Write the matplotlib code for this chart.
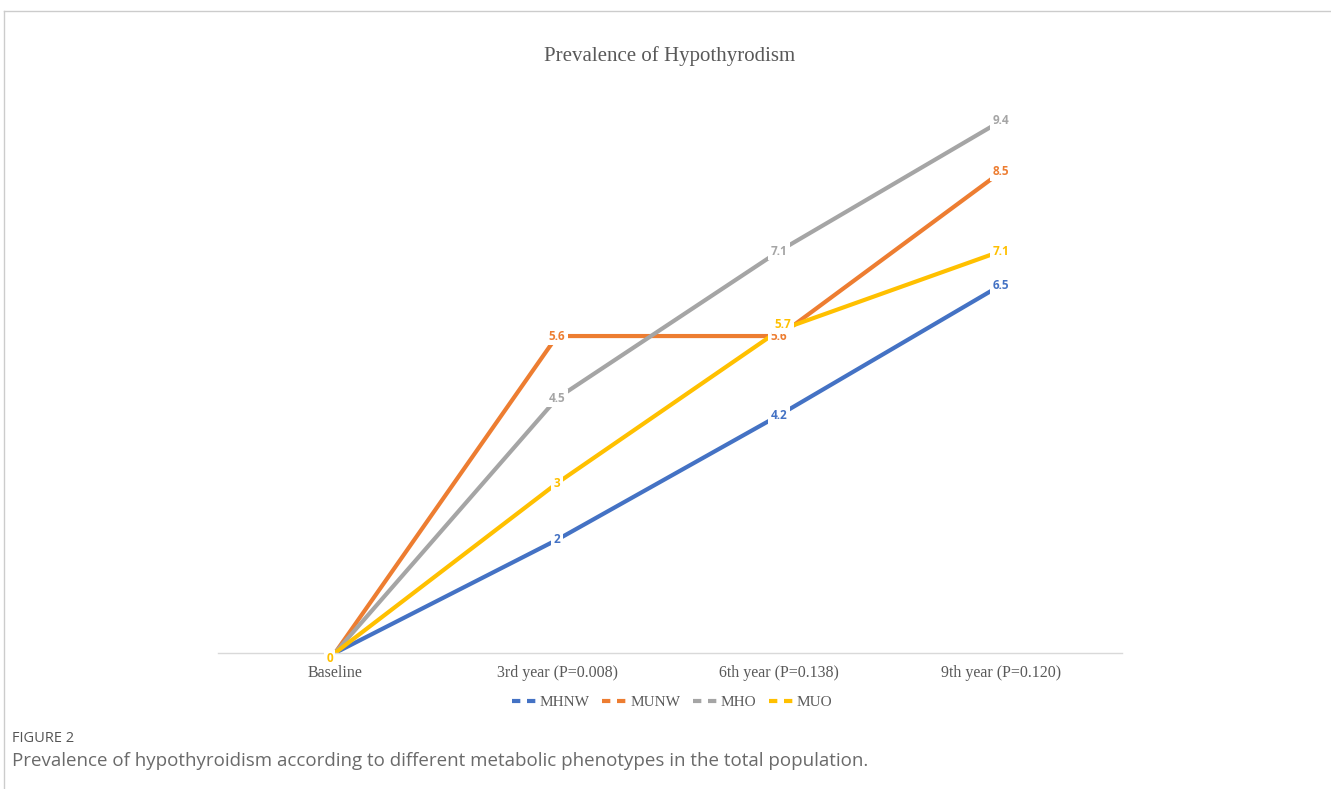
import matplotlib.pyplot as plt
from matplotlib.lines import Line2D

categories = ["Baseline", "3rd year (P=0.008)", "6th year (P=0.138)", "9th year (P=0.120)"]
mhnw = [0, 2, 4.2, 6.5]
munw = [0, 5.6, 5.6, 8.5]
mho = [0, 4.5, 7.1, 9.4]
muo = [0, 3, 5.7, 7.1]

series = [("MHNW", mhnw, "#4472C4"),
          ("MUNW", munw, "#ED7D31"),
          ("MHO", mho, "#A5A5A5"),
          ("MUO", muo, "#FFC000")]

fig = plt.figure(figsize=(13.31, 7.89), dpi=100)
ax = fig.add_axes([0.1638, 0.1724, 0.6792, 0.7173])

x = list(range(len(categories)))
for name, vals, col in series:
    ax.plot(x, vals, color=col, lw=3, solid_capstyle="butt", label=name, zorder=2)

# data labels, drawn after all lines so the white boxes cut through them
for i, (name, vals, col) in enumerate(series):
    for xi, v in zip(x, vals):
        dx, dy = 0, 0
        if xi == 0:
            dx, dy = -4, -4
        if name == "MUO" and xi == 2:
            dx, dy = 3, 4
        ax.annotate(f"{v:g}", (xi, v), xytext=(dx, dy), textcoords="offset points",
                    ha="center", va="center", fontsize=8.5, fontweight="bold",
                    family="Open Sans", color=col, zorder=3 + i,
                    bbox=dict(boxstyle="square,pad=0.2", fc="white", ec="none"))

ax.set_xlim(-0.527, 3.545)
ax.set_ylim(0, 10)
for s in ["top", "right", "left"]:
    ax.spines[s].set_visible(False)
ax.spines["bottom"].set_color("#D9D9D9")
ax.spines["bottom"].set_linewidth(1)
ax.set_yticks([])
ax.set_xticks(x)
ax.set_xticklabels(categories, family="Liberation Serif", fontsize=11.5, color="#595959")
ax.tick_params(axis="x", length=0, pad=9)

fig.text(0.503, 1 - 56 / 789, "Prevalence of Hypothyrodism", ha="center", va="center",
         family="Liberation Serif", fontsize=15, color="#595959")

handles = [Line2D([], [], color=c, lw=3, ls=(0, (2.0, 1.6))) for _, _, c in series]
fig.legend(handles, [n for n, _, _ in series], loc="center", bbox_to_anchor=(0.505, 1 - 702 / 789),
           ncol=4, frameon=False, handlelength=1.8, handletextpad=0.05, columnspacing=0.8,
           prop={"family": "Liberation Serif", "size": 11}, labelcolor="#595959")

fig.text(12 / 1331, 1 - 738 / 789, "FIGURE 2", ha="left", va="center",
         family="Open Sans", fontsize=10.5, color="#555555")
fig.text(12 / 1331, 1 - 761 / 789,
         "Prevalence of hypothyroidism according to different metabolic phenotypes in the total population.",
         ha="left", va="center", family="Open Sans", fontsize=13.5, color="#6A6A6A")

# frame lines of the page
fig.add_artist(Line2D([4 / 1331, 1], [1 - 11 / 789, 1 - 11 / 789], color="#CCCCCC", lw=1))
fig.add_artist(Line2D([4 / 1331, 4 / 1331], [0, 1 - 11 / 789], color="#CCCCCC", lw=1))

fig.savefig("out.png", dpi=100)
